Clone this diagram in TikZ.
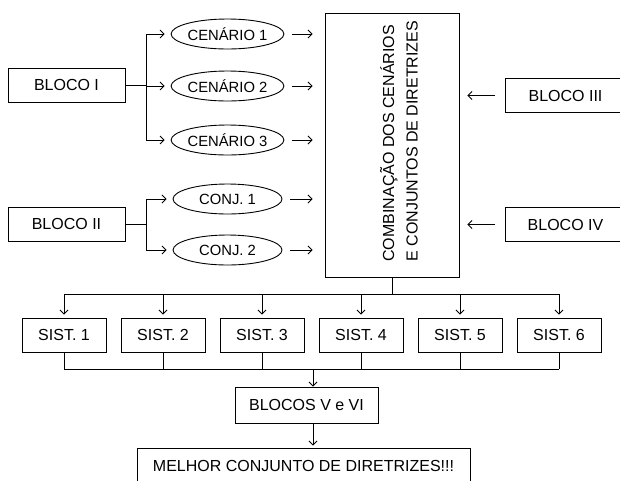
\documentclass[tikz,border=0pt]{standalone}
\usepackage{fontspec}
\setmainfont{Liberation Sans}
\usetikzlibrary{positioning,arrows.meta,shapes.geometric}

\begin{document}
\begin{tikzpicture}[x=1pt,y=-1pt,line width=0.9pt,
      font=\fontsize{16}{22}\selectfont,
      blk/.style={draw,minimum width=117pt,minimum height=34pt,inner sep=0pt},
      sist/.style={draw,minimum width=84pt,minimum height=34pt,inner sep=0pt},
      oval/.style={draw,ellipse,minimum width=109pt,minimum height=30pt,inner sep=0pt,font=\fontsize{14.8}{16}\selectfont},
      arr/.style={-{Straight Barb[length=4pt,width=8pt]}}]
    \useasboundingbox (0,0) rectangle (620,480);
    % input blocks
    \node[blk] (b1) at (66.5,85) {BLOCO I};
    \node[blk] (b2) at (66.5,224) {BLOCO II};
    \node[blk,minimum width=121pt] (b3) at (565.5,95.5) {BLOCO III};
    \node[blk,minimum width=121pt] (b4) at (565.5,224.5) {BLOCO IV};
    % scenarios and sets of guidelines
    \node[oval] (c1) at (227.5,34) {CENÁRIO 1};
    \node[oval] (c2) at (227.5,86) {CENÁRIO 2};
    \node[oval] (c3) at (227.5,140) {CENÁRIO 3};
    \node[oval] (j1) at (227.5,199) {CONJ. 1};
    \node[oval] (j2) at (227.5,250) {CONJ. 2};
    % combination box
    \node[draw,minimum width=134pt,minimum height=264pt] (comb) at (392,145) {};
    \node[rotate=90,anchor=west,align=left,inner sep=0pt,font=\fontsize{16}{23.5}\selectfont] (combtxt) at (399,262) {COMBINAÇÃO DOS CENÁRIOS\\E CONJUNTOS DE DIRETRIZES};
    % branches
    \coordinate (sp1) at (146,85);
    \draw (b1.east) -- (sp1);
    \foreach \n in {c1,c2,c3}
      \draw[arr,shorten >=6pt] (sp1) |- (\n.west);
    \coordinate (sp2) at (146,224);
    \draw (b2.east) -- (sp2);
    \foreach \n in {j1,j2}
      \draw[arr,shorten >=6pt] (sp2) |- (\n.west);
    % into the combination
    \foreach \n in {c1,c2,c3,j1,j2}
      \draw[arr,shorten <=8pt,shorten >=12pt] (\n.east) -- (\n.east -| comb.west);
    \foreach \n in {b3,b4}
      \draw[arr,shorten <=10pt,shorten >=8pt] (\n.west) -- (\n.west -| comb.east);
    % systems
    \foreach \i in {1,...,6}
      \node[sist] (s\i) at ({64+99*(\i-1)},335) {SIST. \i};
    \coordinate (busa) at (392,294);
    \draw (comb.south) -- (busa);
    \draw (s1.north |- busa) -- (s6.north |- busa);
    \foreach \i in {1,...,6}
      \draw[arr,shorten >=3pt] (s\i.north |- busa) -- (s\i.north);
    \coordinate (busb) at (313,369);
    \draw (s1.south |- busb) -- (s6.south |- busb);
    \foreach \i in {1,...,6}
      \draw (s\i.south) -- (s\i.south |- busb);
    % final steps
    \node[draw,minimum width=143pt,minimum height=36pt] (b56) at (306.5,405) {BLOCOS V e VI};
    \node[draw,minimum width=333pt,minimum height=36pt] (best) at (303.5,466) {MELHOR CONJUNTO DE DIRETRIZES!!!};
    \draw[arr] (busb) -- (busb |- b56.north);
    \draw[arr,shorten >=2pt] (busb |- b56.south) -- (busb |- best.north);
\end{tikzpicture}
\end{document}
